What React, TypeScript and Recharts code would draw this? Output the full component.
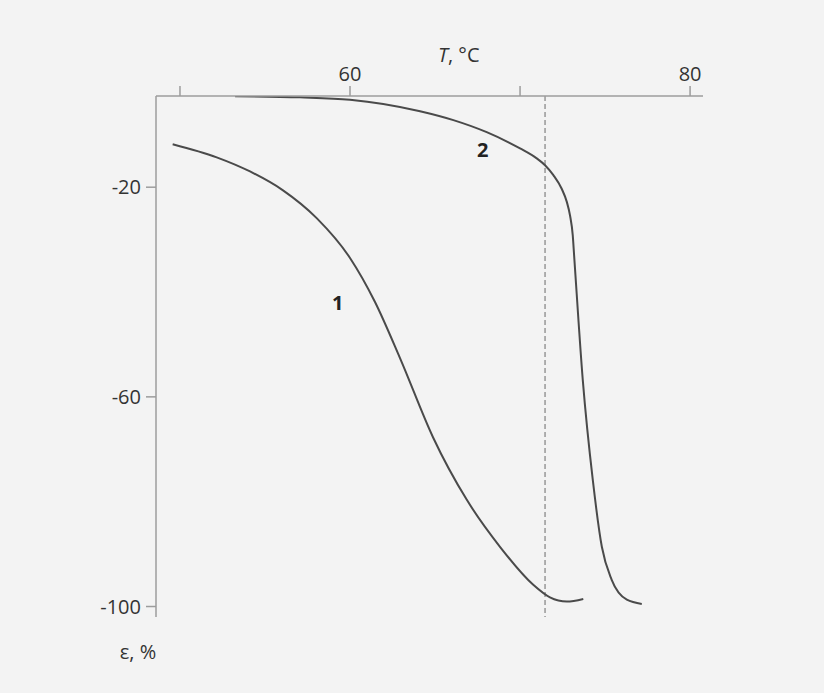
import { LineChart, Line, XAxis, YAxis, ReferenceLine, ReferenceDot } from "recharts";

// curve 1: temperature (°C) and strain (%)
const curve1T = [49.57, 52.16, 54.12, 56.06, 58.04, 60.0, 61.47, 62.94, 64.88, 66.86, 68.82, 70.76, 71.76, 72.75, 73.72];
const curve1Eps = [-11.8, -14.3, -17.0, -20.6, -25.9, -33.5, -41.9, -52.6, -67.7, -79.6, -88.6, -95.8, -98.25, -99.05, -98.55];

// curve 2
const curve2T = [53.24, 57.06, 60.0, 64.12, 66.08, 68.04, 70.0, 70.98, 71.47, 71.96, 72.45, 72.75, 72.94, 73.1, 73.18, 73.69, 74.28, 74.81, 75.39, 76.28, 77.16];
const curve2Eps = [-2.65, -2.86, -3.3, -5.5, -7.2, -9.5, -12.6, -14.5, -15.8, -17.7, -20.3, -22.8, -25.4, -29.2, -33.0, -56.8, -75.9, -88.6, -94.9, -98.7, -99.5];

const xTicks = [50, 60, 70, 80];
const xTickLabels = ["", "60", "", "80"];
const yTicks = [-20, -60, -100];

const dashedAt = 71.47;
const label1 = { t: 59.28, eps: -42.1, text: "1" };
const label2 = { t: 67.81, eps: -12.8, text: "2" };

const series1 = curve1T.map((t, i) => ({ t, eps: curve1Eps[i] }));
const series2 = curve2T.map((t, i) => ({ t, eps: curve2Eps[i] }));

const FONT = "'Open Sans', 'Noto Sans', sans-serif";
const AXIS = "#9c9c9c";
const INK = "#4a4a4a";

function CurveLabel(props: any) {
  const { cx, cy, text } = props;
  return (
    <text x={cx} y={cy} dy="0.36em" textAnchor="middle" fontFamily={FONT} fontWeight={700} fontSize={20} fill="#222">
      {text}
    </text>
  );
}

export default function App() {
  return (
    <div style={{ position: "absolute", top: 0, left: 0, width: 824, height: 693, background: "#f3f3f3" }}>
      <LineChart width={824} height={693} margin={{ top: 66, right: 121, left: 96, bottom: 76 }}>
        <XAxis
          type="number"
          dataKey="t"
          orientation="top"
          height={30}
          domain={[48.59, 80.76]}
          allowDataOverflow
          ticks={xTicks}
          tickFormatter={(v: number) => xTickLabels[xTicks.indexOf(v)] ?? ""}
          tickSize={10}
          tickMargin={5}
          stroke={AXIS}
          strokeWidth={1.5}
          tick={{ fill: "#333", fontSize: 20, fontFamily: FONT }}
          label={{
            content: (p: any) => (
              <text x={p.viewBox.x + 282} y={p.viewBox.y - 4} fontFamily={FONT} fontSize={20} fill="#333">
                <tspan fontStyle="italic">T</tspan>, °C
              </text>
            ),
          }}
        />
        <YAxis
          type="number"
          dataKey="eps"
          width={60}
          domain={[-102, -2.6]}
          allowDataOverflow
          ticks={yTicks}
          tickSize={10}
          tickMargin={5}
          stroke={AXIS}
          strokeWidth={1.5}
          tick={{ fill: "#333", fontSize: 20, fontFamily: FONT }}
          label={{
            content: (p: any) => (
              <text x={p.viewBox.x + 42} y={p.viewBox.y + p.viewBox.height + 42} textAnchor="middle" fontFamily={FONT} fontSize={20} fill="#333">
                ε, %
              </text>
            ),
          }}
        />
        <ReferenceLine x={dashedAt} stroke="#8a8a8a" strokeWidth={1.3} strokeDasharray="5 3" />
        <Line data={series1} dataKey="eps" type="monotone" stroke={INK} strokeWidth={2} dot={false} isAnimationActive={false} />
        <Line data={series2} dataKey="eps" type="monotone" stroke={INK} strokeWidth={2} dot={false} isAnimationActive={false} />
        <ReferenceDot x={label1.t} y={label1.eps} r={0} shape={(p: any) => <CurveLabel {...p} text={label1.text} />} />
        <ReferenceDot x={label2.t} y={label2.eps} r={0} shape={(p: any) => <CurveLabel {...p} text={label2.text} />} />
      </LineChart>
    </div>
  );
}
